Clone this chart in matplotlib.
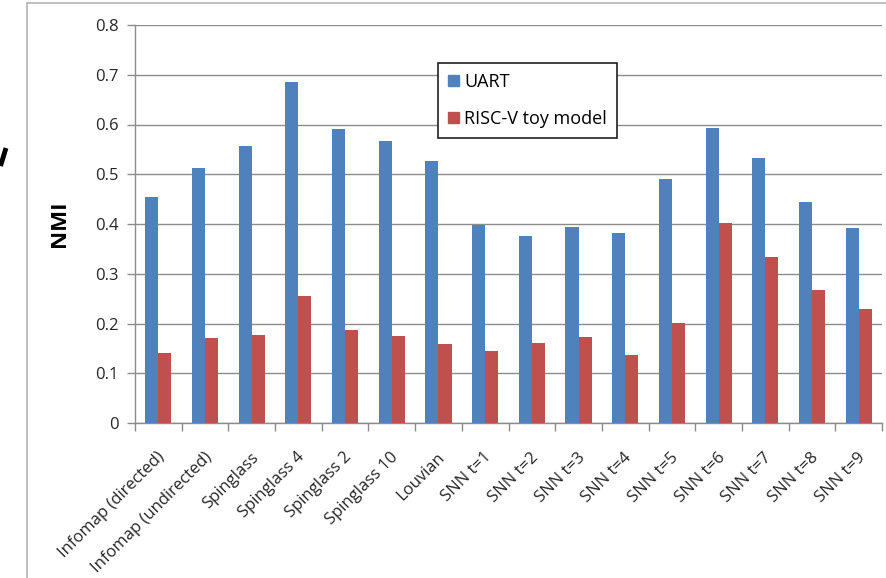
import matplotlib
matplotlib.use("Agg")
import matplotlib.pyplot as plt
import numpy as np
from matplotlib.lines import Line2D
from matplotlib.patches import Patch

categories = ["Infomap (directed)", "Infomap (undirected)", "Spinglass", "Spinglass 4",
              "Spinglass 2", "Spinglass 10", "Louvian", "SNN t=1", "SNN t=2", "SNN t=3",
              "SNN t=4", "SNN t=5", "SNN t=6", "SNN t=7", "SNN t=8", "SNN t=9"]
uart = [0.455, 0.513, 0.557, 0.686, 0.590, 0.567, 0.526, 0.397, 0.376, 0.393,
        0.381, 0.490, 0.592, 0.532, 0.444, 0.391]
riscv = [0.140, 0.170, 0.176, 0.255, 0.187, 0.174, 0.158, 0.145, 0.160, 0.173,
         0.136, 0.202, 0.403, 0.334, 0.267, 0.229]
y_ticks = [0, 0.1, 0.2, 0.3, 0.4, 0.5, 0.6, 0.7, 0.8]
y_ticklabels = ["0", "0.1", "0.2", "0.3", "0.4", "0.5", "0.6", "0.7", "0.8"]
series_names = ["UART", "RISC-V toy model"]

plt.rcParams['font.family'] = ['Open Sans', 'DejaVu Sans']

W, H = 886, 578
fig = plt.figure(figsize=(W / 100, H / 100), dpi=100)
ax = fig.add_axes([135 / W, 1 - 423 / H, (882 - 135) / W, (423 - 25) / H])

blue = "#4F81BD"
red = "#C0504D"
x = np.arange(len(categories))
bw = 0.28
ax.bar(x - bw / 2, uart, bw, color=blue, zorder=3)
ax.bar(x + bw / 2, riscv, bw, color=red, zorder=3)

ax.set_xlim(-0.5, len(categories) - 0.5)
ax.set_ylim(0, 0.8)
ax.set_yticks(y_ticks)
ax.set_yticklabels(y_ticklabels, fontsize=12, color="#262626")
ax.yaxis.grid(True, color="#8c8c8c", linewidth=1.0, zorder=0)
ax.set_axisbelow(True)

# category tick marks sit on the boundaries between groups
ax.set_xticks(np.arange(len(categories) + 1) - 0.5)
ax.set_xticklabels([])
ax.tick_params(axis="x", length=6, color="#8c8c8c", width=1)
ax.tick_params(axis="y", length=6, color="#8c8c8c", width=1, pad=6)

for i, name in enumerate(categories):
    ax.annotate(name, xy=(i, 0), xycoords="data", xytext=(3, -23),
                textcoords="offset points", rotation=45, rotation_mode="anchor",
                ha="right", va="center", fontsize=12, color="#262626")

for side in ["top", "right"]:
    ax.spines[side].set_visible(False)
for side in ["left", "bottom"]:
    ax.spines[side].set_color("#8c8c8c")
    ax.spines[side].set_linewidth(1.0)

ax.set_ylabel("NMI", fontsize=16, fontweight="bold", labelpad=18, color="black")

handles = [Patch(facecolor=blue, edgecolor=blue), Patch(facecolor=red, edgecolor=red)]
leg = fig.legend(handles, series_names, loc="upper left",
                 bbox_to_anchor=(438 / W, 1 - 63 / H), bbox_transform=fig.transFigure,
                 fontsize=13, frameon=True, fancybox=False, shadow=False,
                 labelspacing=1.05, handlelength=0.6, handleheight=0.6,
                 handletextpad=0.3, borderpad=0.55, borderaxespad=0)
leg.get_frame().set_edgecolor("#202020")
leg.get_frame().set_linewidth(1.2)
leg.get_frame().set_alpha(1)

# outer chart-area frame (left and top edges)
fig.add_artist(Line2D([27 / W, 27 / W], [0, 1 - 3 / H], transform=fig.transFigure,
                      color="#b4b4b4", linewidth=1.2))
fig.add_artist(Line2D([27 / W, 1], [1 - 3 / H, 1 - 3 / H], transform=fig.transFigure,
                      color="#b4b4b4", linewidth=1.2))
# stroke of neighbouring glyph on the left margin
fig.add_artist(Line2D([0.5 / W, 6 / W], [1 - 166 / H, 1 - 148 / H], transform=fig.transFigure,
                      color="black", linewidth=3.5, solid_capstyle="butt"))

fig.savefig("out.png", dpi=100)
